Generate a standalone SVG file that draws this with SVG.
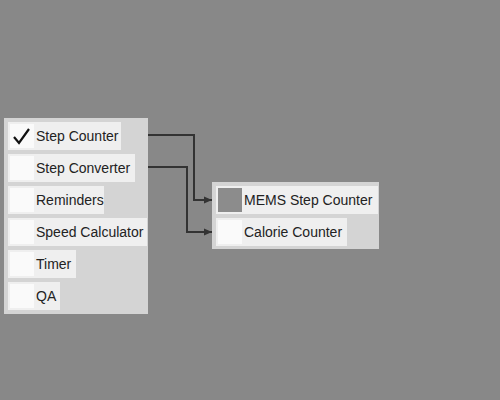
<svg xmlns="http://www.w3.org/2000/svg" width="500" height="400" viewBox="0 0 500 400">
<defs>
<style>
.panel{fill:#d4d4d4}
.row{fill:#efefef}
.box{fill:#fafafa}
.lbl{font-family:"Liberation Sans",Arial,sans-serif;font-size:14px;fill:#222}
.con{fill:none;stroke:#333;stroke-width:2}
</style>
<marker id="arr" markerWidth="8" markerHeight="8" refX="8" refY="4" orient="auto" markerUnits="userSpaceOnUse">
<path d="M0,0.5 L8,4 L0,7.5 Z" fill="#333"/>
</marker>
</defs>
<rect width="500" height="400" fill="#888888"/>
<g id="left-panel">
<rect class="panel" x="4" y="118" width="144" height="196"/>
<g id="step-counter">
<rect class="row" x="8" y="122" width="113" height="28"/>
<rect class="box" x="10" y="124" width="24" height="24"/>
<path d="M14,137 L19,143 L29,129" fill="none" stroke="#111" stroke-width="2.2"/>
<text class="lbl" x="36" y="141">Step Counter</text>
</g>
<g id="step-converter">
<rect class="row" x="8" y="154" width="127" height="28"/>
<rect class="box" x="10" y="156" width="24" height="24"/>
<text class="lbl" x="36" y="173">Step Converter</text>
</g>
<g id="reminders">
<rect class="row" x="8" y="186" width="96" height="28"/>
<rect class="box" x="10" y="188" width="24" height="24"/>
<text class="lbl" x="36" y="205">Reminders</text>
</g>
<g id="speed-calculator">
<rect class="row" x="8" y="218" width="139" height="28"/>
<rect class="box" x="10" y="220" width="24" height="24"/>
<text class="lbl" x="36" y="237">Speed Calculator</text>
</g>
<g id="timer">
<rect class="row" x="8" y="250" width="68" height="28"/>
<rect class="box" x="10" y="252" width="24" height="24"/>
<text class="lbl" x="36" y="269">Timer</text>
</g>
<g id="qa">
<rect class="row" x="8" y="282" width="52" height="28"/>
<rect class="box" x="10" y="284" width="24" height="24"/>
<text class="lbl" x="36" y="301">QA</text>
</g>
</g>
<g id="right-panel">
<rect class="panel" x="212" y="182" width="167" height="67"/>
<g id="mems-step-counter">
<rect class="row" x="216" y="186" width="162" height="28"/>
<rect x="218" y="188" width="24" height="24" fill="#8c8c8c"/>
<text class="lbl" x="244" y="205">MEMS Step Counter</text>
</g>
<g id="calorie-counter">
<rect class="row" x="216" y="218" width="131" height="28"/>
<rect class="box" x="218" y="220" width="24" height="24"/>
<text class="lbl" x="244" y="237">Calorie Counter</text>
</g>
</g>
<g id="connectors">
<path class="con" d="M148,135 H194 V200 H212" marker-end="url(#arr)"/>
<path class="con" d="M148,167 H187 V232 H212" marker-end="url(#arr)"/>
</g>
</svg>
